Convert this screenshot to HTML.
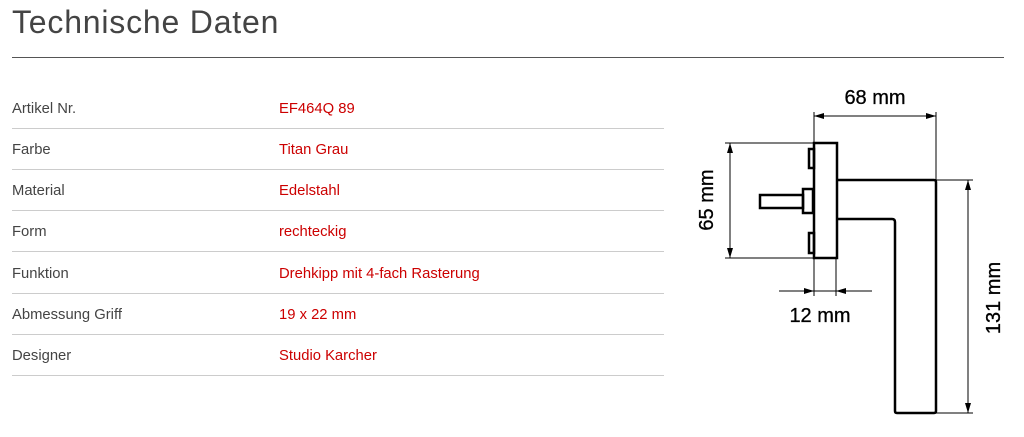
<!DOCTYPE html>
<html><head><style>
body{margin:0;width:1024px;height:437px;background:#fff;font-family:"Liberation Sans",sans-serif;position:relative;overflow:hidden}
h1{position:absolute;left:12px;top:4px;margin:0;font-weight:300;font-size:32px;color:#444;letter-spacing:0.8px}
.hr{position:absolute;left:12px;top:57px;width:992px;height:1px;background:#555}
.row{position:absolute;left:12px;width:652px;height:41px;border-bottom:1px solid #ccc;font-size:14.8px}
.row span{position:absolute;top:14px}
.k{left:0;color:#444}.v{left:267px;color:#c00}
</style></head><body>
<h1>Technische Daten</h1>
<div class="hr"></div>
<div class="row" style="top:87px"><span class="k">Artikel Nr.</span><span class="v">EF464Q 89</span></div>
<div class="row" style="top:128px"><span class="k">Farbe</span><span class="v">Titan Grau</span></div>
<div class="row" style="top:169px"><span class="k">Material</span><span class="v">Edelstahl</span></div>
<div class="row" style="top:210px"><span class="k">Form</span><span class="v">rechteckig</span></div>
<div class="row" style="top:252px"><span class="k">Funktion</span><span class="v">Drehkipp mit 4-fach Rasterung</span></div>
<div class="row" style="top:293px"><span class="k">Abmessung Griff</span><span class="v">19 x 22 mm</span></div>
<div class="row" style="top:334px"><span class="k">Designer</span><span class="v">Studio Karcher</span></div>
<svg width="1024" height="437" style="position:absolute;left:0;top:0">
<defs><marker id="a" markerWidth="10" markerHeight="6" refX="10" refY="3" orient="auto" markerUnits="userSpaceOnUse"><path d="M0,0L10,3L0,6z" fill="#000"/></marker></defs>
<g fill="none" stroke="#000" stroke-width="2.5">
<rect x="814" y="143" width="23" height="115"/>
<path d="M837,180H934Q936,180 936,182V411Q936,413 934,413H897Q895,413 895,411V222Q895,219 892,219H837"/>
<rect x="760" y="195" width="43" height="13"/>
<rect x="803" y="189" width="10" height="24"/>
<rect x="809" y="149" width="5" height="19"/>
<rect x="809" y="233" width="5" height="20"/>
</g>
<g stroke="#000" stroke-width="1" fill="none">
<line x1="814" y1="112" x2="814" y2="143"/><line x1="936" y1="112" x2="936" y2="180"/>
<line x1="828" y1="116" x2="814" y2="116" marker-end="url(#a)"/><line x1="922" y1="116" x2="936" y2="116" marker-end="url(#a)"/>
<line x1="814" y1="116" x2="936" y2="116"/>
<line x1="725" y1="143" x2="814" y2="143"/><line x1="725" y1="258" x2="814" y2="258"/>
<line x1="730" y1="143" x2="730" y2="258"/>
<line x1="730" y1="160" x2="730" y2="143" marker-end="url(#a)"/><line x1="730" y1="240" x2="730" y2="258" marker-end="url(#a)"/>
<line x1="814" y1="258" x2="814" y2="296"/><line x1="836" y1="258" x2="836" y2="296"/>
<line x1="779" y1="291" x2="814" y2="291" marker-end="url(#a)"/><line x1="872" y1="291" x2="836" y2="291" marker-end="url(#a)"/>
<line x1="814" y1="291" x2="836" y2="291"/>
<line x1="936" y1="180" x2="973" y2="180"/><line x1="936" y1="413" x2="973" y2="413"/>
<line x1="968" y1="180" x2="968" y2="413"/>
<line x1="968" y1="196" x2="968" y2="180" marker-end="url(#a)"/><line x1="968" y1="397" x2="968" y2="413" marker-end="url(#a)"/>
</g>
<g font-family="Liberation Sans,sans-serif" font-size="20" fill="#000" text-anchor="middle" stroke="#000" stroke-width="0.3">
<text x="875" y="104">68 mm</text>
<text x="820" y="322">12 mm</text>
<text transform="translate(713,200) rotate(-90)">65 mm</text>
<text transform="translate(1000,298) rotate(-90)">131 mm</text>
</g>
</svg>
</body></html>
